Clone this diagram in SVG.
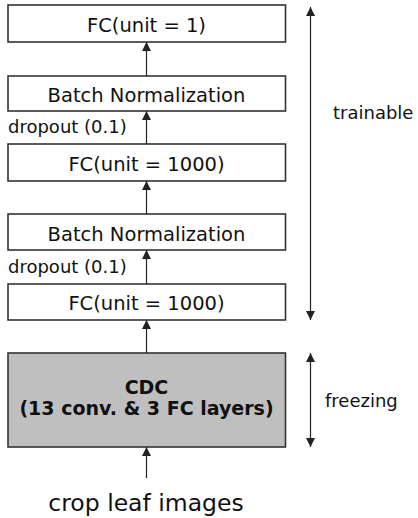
<svg xmlns="http://www.w3.org/2000/svg" width="418" height="518" viewBox="0 0 418 518">
<style>
.box{fill:#fff;stroke:#333;stroke-width:1.6}
.gray{fill:#bfbfbf;stroke:#333;stroke-width:1.6}
.lbl{font-family:"DejaVu Sans","Noto Sans",sans-serif;font-size:19.5px;fill:#111;text-anchor:middle}
.sm{font-family:"DejaVu Sans","Noto Sans",sans-serif;font-size:18px;fill:#111}
.b{font-weight:bold;font-size:19px}
.ln{stroke:#222;stroke-width:1.2;fill:none}
</style>
<defs>
<marker id="ah" viewBox="0 0 10 10" refX="10" refY="5" markerWidth="9" markerHeight="9" markerUnits="userSpaceOnUse" orient="auto">
<path d="M0,0 L10,5 L0,10 z" fill="#222"/>
</marker>
</defs>
<rect width="418" height="518" fill="#fff"/>
<g id="fc1"><rect class="box" x="8" y="5" width="277.5" height="37"/><text class="lbl" x="146.5" y="32">FC(unit = 1)</text></g>
<g id="bn2"><rect class="box" x="8" y="76" width="277.5" height="35"/><text class="lbl" x="146.5" y="101.5">Batch Normalization</text></g>
<g id="fc1000b"><rect class="box" x="8" y="144" width="277.5" height="37"/><text class="lbl" x="146.5" y="171">FC(unit = 1000)</text></g>
<g id="bn1"><rect class="box" x="8" y="214" width="277.5" height="36"/><text class="lbl" x="146.5" y="241">Batch Normalization</text></g>
<g id="fc1000a"><rect class="box" x="8" y="284" width="277.5" height="36"/><text class="lbl" x="146.5" y="309.5">FC(unit = 1000)</text></g>
<g id="cdc"><rect class="gray" x="8" y="353" width="277.5" height="94"/><text class="lbl b" x="146.5" y="394">CDC</text><text class="lbl b" x="146.5" y="414.5">(13 conv. &amp; 3 FC layers)</text></g>
<g id="input"><text class="lbl" style="font-size:23.5px" x="146" y="511">crop leaf images</text></g>
<g id="labels">
<text class="sm" x="8" y="133">dropout (0.1)</text>
<text class="sm" x="8" y="273">dropout (0.1)</text>
<text class="sm" x="333" y="119">trainable</text>
<text class="sm" x="325" y="407">freezing</text>
</g>
<g id="connectors">
<line class="ln" x1="146.5" y1="76" x2="146.5" y2="42" marker-end="url(#ah)"/>
<line class="ln" x1="146.5" y1="144" x2="146.5" y2="111" marker-end="url(#ah)"/>
<line class="ln" x1="146.5" y1="214" x2="146.5" y2="181" marker-end="url(#ah)"/>
<line class="ln" x1="146.5" y1="284" x2="146.5" y2="250" marker-end="url(#ah)"/>
<line class="ln" x1="146.5" y1="353" x2="146.5" y2="320" marker-end="url(#ah)"/>
<line class="ln" x1="146.5" y1="478" x2="146.5" y2="447" marker-end="url(#ah)"/>
<line class="ln" x1="310.5" y1="160" x2="310.5" y2="7" marker-end="url(#ah)"/>
<line class="ln" x1="310.5" y1="160" x2="310.5" y2="320" marker-end="url(#ah)"/>
<line class="ln" x1="310.5" y1="400" x2="310.5" y2="353" marker-end="url(#ah)"/>
<line class="ln" x1="310.5" y1="400" x2="310.5" y2="447" marker-end="url(#ah)"/>
</g>
</svg>
